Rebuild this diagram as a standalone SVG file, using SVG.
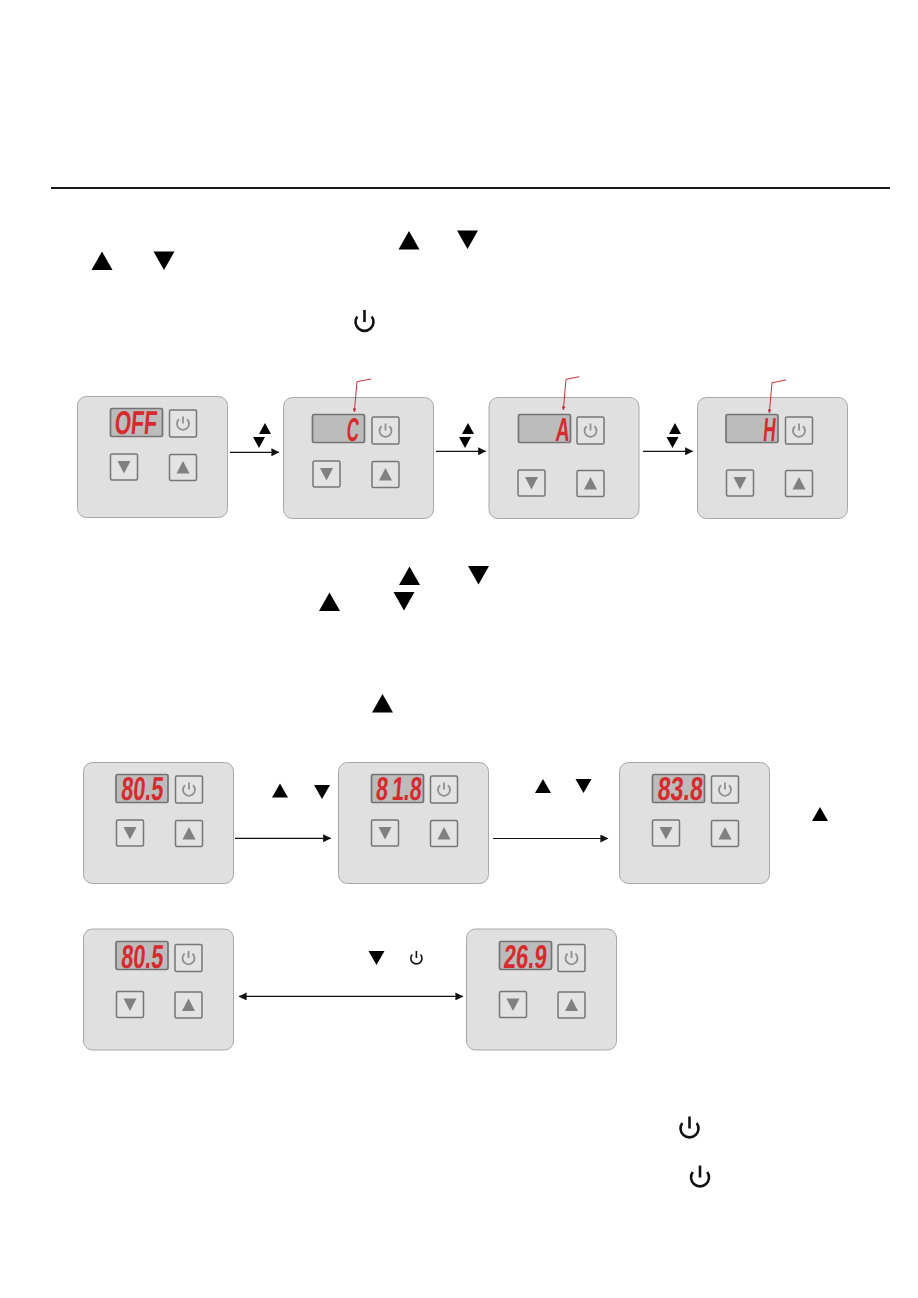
<svg xmlns="http://www.w3.org/2000/svg" width="918" height="1298" viewBox="0 0 918 1298">
<style>
.panel{fill:#e0e0e0;stroke:#a8a8a8;stroke-width:1}
.disp{fill:#bcbcbc;stroke:#737373;stroke-width:1.7}
.btn{fill:#e3e3e3;stroke:#767676;stroke-width:1.5}
.gt{fill:#808080}
.seg{font-family:"Liberation Sans",Arial,sans-serif;font-weight:700;font-size:33px;fill:#d62a2e;text-anchor:end}
.conn{fill:none;stroke:#111;stroke-width:1.2}
.call{fill:none;stroke:#c8323a;stroke-width:1}
</style>
<defs>
<marker id="ah" viewBox="0 0 10 10" refX="9.5" refY="5" markerWidth="9.5" markerHeight="8" markerUnits="userSpaceOnUse" orient="auto-start-reverse"><path d="M0 0L10 5L0 10Z" fill="#111"/></marker>
<marker id="rh" viewBox="0 0 10 10" refX="9" refY="5" markerWidth="4" markerHeight="4" markerUnits="userSpaceOnUse" orient="auto"><path d="M0 0L10 5L0 10Z" fill="#c8323a"/></marker>
<g id="b-pow"><rect class="btn" width="27" height="27" rx="1.5"/><path d="M9.6 9.3A6 6 0 1 0 17.4 9.3M13.5 6.5V13.5" fill="none" stroke="#8f8f8f" stroke-width="1.8"/></g>
<g id="b-dn"><rect class="btn" width="27" height="26" rx="1.5"/><path class="gt" d="M7 7H20L13.5 19.500Z"/></g>
<g id="b-up"><rect class="btn" width="27" height="26" rx="1.5"/><path class="gt" d="M7 19H20L13.5 6.500Z"/></g>
<path id="t-up" d="M0 18.5L10.5 0L21 18.5Z" fill="#000"/>
<path id="t-dn" d="M0 0H21L10.5 18.5Z" fill="#000"/>
<path id="s-up" d="M0 11L6 0L12 11Z" fill="#000"/>
<path id="s-dn" d="M0 0H12L6 11Z" fill="#000"/>
<path id="m-up" d="M0 14L8 0L16 14Z" fill="#000"/>
<path id="m-dn" d="M0 0H16L8 14Z" fill="#000"/>
<path id="pw" d="M-7.2 -5.5A9 9 0 1 0 7.2 -5.5M0 -12V0" fill="none" stroke="#111" stroke-width="2.6"/>
</defs>
<rect width="918" height="1298" fill="#fff"/>
<rect x="51" y="187" width="839" height="2" fill="#1a1a1a"/>

<g id="symbols">
<use href="#t-up" x="398.500" y="231"/><use href="#t-dn" x="457" y="230.500"/>
<use href="#t-up" x="91.500" y="251.500"/><use href="#t-dn" x="153.500" y="251.500"/>
<use href="#pw" x="364.500" y="322"/>
<use href="#t-up" x="399" y="566.500"/><use href="#t-dn" x="468" y="566"/>
<use href="#t-up" x="319" y="592.500"/><use href="#t-dn" x="393.500" y="592"/>
<use href="#t-up" x="372" y="694"/>
<use href="#s-up" x="259" y="423"/><use href="#s-dn" x="253" y="437"/>
<use href="#s-up" x="462" y="423"/><use href="#s-dn" x="459" y="437"/>
<use href="#s-up" x="669" y="423"/><use href="#s-dn" x="666.500" y="437"/>
<use href="#m-up" x="272" y="783.500"/><use href="#m-dn" x="314" y="785"/>
<use href="#m-up" x="535" y="779"/><use href="#m-dn" x="575.500" y="779"/>
<use href="#m-up" x="812" y="807"/>
<use href="#m-dn" x="368.500" y="951"/>
<path d="M412.300 954.500A5.600 5.600 0 1 0 420.500 954.500M416.400 951V958" fill="none" stroke="#111" stroke-width="1.600"/>
<use href="#pw" x="689.500" y="1128.500"/><use href="#pw" x="700" y="1177.500"/>
</g>

<g id="panel-off"><rect class="panel" x="77.500" y="396.500" width="150" height="121" rx="9"/><rect class="disp" x="110.500" y="408.500" width="52" height="28" rx="1.500"/>
<text class="seg" transform="translate(156 434) skewX(-5)" textLength="42" lengthAdjust="spacingAndGlyphs">OFF</text>
<use href="#b-pow" x="169.500" y="410"/><use href="#b-dn" x="110.500" y="454"/><use href="#b-up" x="169.500" y="454.500"/></g>

<g id="panel-c"><rect class="panel" x="283.500" y="397.500" width="150" height="121" rx="9"/><rect class="disp" x="312.500" y="414.500" width="52" height="28" rx="1.500"/>
<text class="seg" transform="translate(358 440.500) skewX(-5)" textLength="12" lengthAdjust="spacingAndGlyphs">C</text>
<use href="#b-pow" x="372" y="417"/><use href="#b-dn" x="313" y="461"/><use href="#b-up" x="372" y="461.500"/></g>

<g id="panel-a"><rect class="panel" x="489" y="397.500" width="150" height="121" rx="9"/><rect class="disp" x="518.500" y="414.500" width="52" height="28" rx="1.500"/>
<text class="seg" transform="translate(569 440.500) skewX(-5)" textLength="14" lengthAdjust="spacingAndGlyphs">A</text>
<use href="#b-pow" x="577" y="417"/><use href="#b-dn" x="518" y="470"/><use href="#b-up" x="577" y="470.500"/></g>

<g id="panel-h"><rect class="panel" x="697.500" y="397.500" width="150" height="121" rx="9"/><rect class="disp" x="726" y="414.500" width="52" height="28" rx="1.500"/>
<text class="seg" transform="translate(775 440.500) skewX(-5)" textLength="12.500" lengthAdjust="spacingAndGlyphs">H</text>
<use href="#b-pow" x="785.500" y="417"/><use href="#b-dn" x="726.500" y="470"/><use href="#b-up" x="785.500" y="470.500"/></g>

<g id="panel-805a"><rect class="panel" x="83.500" y="762.500" width="150" height="121" rx="9"/><rect class="disp" x="116" y="774.500" width="52" height="28" rx="1.500"/>
<text class="seg" transform="translate(162.500 799.500) skewX(-5)" textLength="42" lengthAdjust="spacingAndGlyphs">80.5</text>
<use href="#b-pow" x="175.500" y="776"/><use href="#b-dn" x="116.500" y="820"/><use href="#b-up" x="175.500" y="820.500"/></g>

<g id="panel-818"><rect class="panel" x="338.500" y="762.500" width="150" height="121" rx="9"/><rect class="disp" x="371.500" y="774.500" width="52" height="28" rx="1.500"/>
<text class="seg" transform="translate(421 799.500) skewX(-5) scale(.65 1)">8<tspan dx="6">1.8</tspan></text>
<use href="#b-pow" x="430.500" y="776"/><use href="#b-dn" x="371.500" y="820"/><use href="#b-up" x="430.500" y="820.500"/></g>

<g id="panel-838"><rect class="panel" x="619.500" y="762.500" width="150" height="121" rx="9"/><rect class="disp" x="652.500" y="774.500" width="52" height="28" rx="1.500"/>
<text class="seg" transform="translate(702 799.500) skewX(-5)" textLength="45" lengthAdjust="spacingAndGlyphs">83.8</text>
<use href="#b-pow" x="711.500" y="776"/><use href="#b-dn" x="652.500" y="820"/><use href="#b-up" x="711.500" y="820.500"/></g>

<g id="panel-805b"><rect class="panel" x="83.500" y="929" width="150" height="121" rx="9"/><rect class="disp" x="116" y="941.500" width="52" height="28" rx="1.500"/>
<text class="seg" transform="translate(162.500 968) skewX(-5)" textLength="42" lengthAdjust="spacingAndGlyphs">80.5</text>
<use href="#b-pow" x="175" y="944.500"/><use href="#b-dn" x="116.500" y="991.500"/><use href="#b-up" x="175" y="992"/></g>

<g id="panel-269"><rect class="panel" x="466.500" y="929" width="150" height="121" rx="9"/><rect class="disp" x="499.500" y="941.500" width="52" height="28" rx="1.500"/>
<text class="seg" transform="translate(546 968) skewX(-5)" textLength="43" lengthAdjust="spacingAndGlyphs">26.9</text>
<use href="#b-pow" x="558" y="944.500"/><use href="#b-dn" x="499.500" y="991.500"/><use href="#b-up" x="558" y="992"/></g>

<g id="connectors">
<path class="conn" d="M230 452.300H279" marker-end="url(#ah)"/>
<path class="conn" d="M436 451.300H485.700" marker-end="url(#ah)"/>
<path class="conn" d="M643 451.300H692.700" marker-end="url(#ah)"/>
<path class="conn" d="M235 838.300H330.700" marker-end="url(#ah)"/>
<path class="conn" d="M493 838.500H608" marker-end="url(#ah)"/>
<path class="conn" d="M239 996.400H463" marker-start="url(#ah)" marker-end="url(#ah)"/>
<path class="call" d="M371 379L357 381.700L354.300 412" marker-end="url(#rh)"/>
<path class="call" d="M579.300 376.700L566 379.300L563.300 410" marker-end="url(#rh)"/>
<path class="call" d="M786 380L772 382.700L769.300 413" marker-end="url(#rh)"/>
</g>
</svg>
